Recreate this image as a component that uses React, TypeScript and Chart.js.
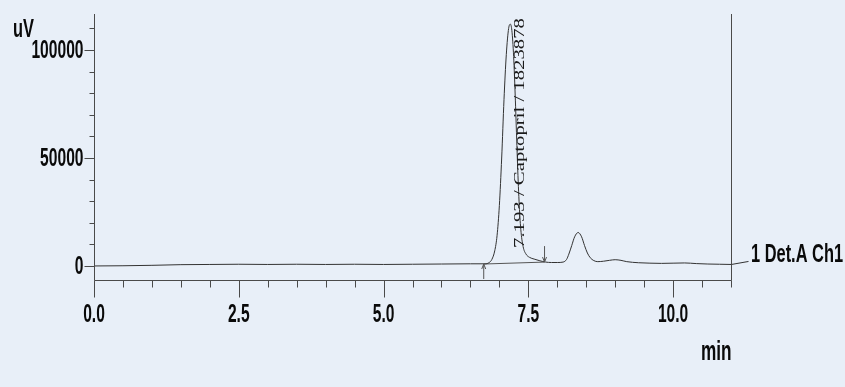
import React, { useEffect, useRef } from "react";
import { Chart, registerables } from "chart.js";

Chart.register(...registerables);

// ---- data ----
const traceTimes = [
  0.0, 0.5, 1.0, 1.5, 2.0, 2.5, 3.0, 3.5, 4.0, 4.5, 5.0, 5.5, 6.0, 6.5, 6.75,
  6.82, 6.87, 6.92, 6.96, 7.0, 7.04, 7.08, 7.12, 7.16, 7.19, 7.22, 7.25, 7.28,
  7.31, 7.34, 7.37, 7.41, 7.46, 7.52, 7.6, 7.7, 7.8, 7.9, 8.0, 8.1, 8.16, 8.2,
  8.25, 8.3, 8.36, 8.42, 8.47, 8.52, 8.57, 8.63, 8.7, 8.8, 8.9, 9.0, 9.1, 9.2,
  9.4, 9.6, 9.8, 10.0, 10.2, 10.4, 10.6, 10.8, 11.0,
];
const traceSignal = [
  0, 100, 300, 600, 700, 800, 700, 800, 700, 800, 700, 800, 900, 1000, 1000,
  1500, 3000, 7000, 14000, 28000, 50000, 77000, 98000, 110000, 112000, 108000,
  95000, 74000, 50000, 30000, 17000, 9000, 5500, 4000, 3200, 2400, 1800, 1600,
  1600, 1800, 3000, 5500, 9500, 13500, 15500, 13500, 9500, 6000, 3800, 2500,
  2000, 2200, 2600, 2900, 2600, 2000, 1500, 1300, 1200, 1300, 1400, 1100, 900,
  800, 700,
];
const integrationTimes = [6.73, 7.78];
const integrationSignal = [900, 1800];
const markerTimes = [6.73, 7.78];
const markerDirections = ["up", "down"];

const peakTime = 7.193;
const peakLabel = "7.193 / Captopril / 1823878";
const channelLabel = "1 Det.A Ch1";
const yUnit = "uV";
const xUnit = "min";

const xMajorTicks = [0, 2.5, 5.0, 7.5, 10.0];
const xTickLabels = ["0.0", "2.5", "5.0", "7.5", "10.0"];
const xMinorStep = 0.5;
const yMajorTicks = [0, 50000, 100000];
const yTickLabels = ["0", "50000", "100000"];
const yMinorStep = 10000;

const X_MIN = 0;
const X_MAX = 11;
const Y_MIN = -6500;
const Y_MAX = 116700;

const BG = "#e8eff8";
const INK = "#0a0a0a";
const AXIS = "#4a4a4a";
const TRACE = "#333333";
const SANS = '"Liberation Sans", Arial, sans-serif';
const SERIF = '"Liberation Serif", "DejaVu Serif", serif';

function drawText(
  ctx: CanvasRenderingContext2D,
  text: string,
  x: number,
  y: number,
  size: number,
  align: CanvasTextAlign,
  sx: number,
  sy: number,
  baseline: CanvasTextBaseline = "middle"
) {
  ctx.save();
  ctx.translate(x, y);
  ctx.scale(sx, sy);
  ctx.font = `bold ${size}px ${SANS}`;
  ctx.textAlign = align;
  ctx.textBaseline = baseline;
  ctx.fillText(text, 0, 0);
  ctx.restore();
}

const decorPlugin = {
  id: "chromDecor",
  beforeDraw(chart: any) {
    const ctx = chart.ctx;
    ctx.save();
    ctx.fillStyle = BG;
    ctx.fillRect(0, 0, chart.width, chart.height);
    ctx.restore();
  },
  afterDraw(chart: any) {
    const ctx = chart.ctx as CanvasRenderingContext2D;
    const { left, right, top, bottom } = chart.chartArea;
    const xs = chart.scales.x;
    const ys = chart.scales.y;
    ctx.save();
    ctx.strokeStyle = AXIS;
    ctx.lineWidth = 1;
    const line = (x1: number, y1: number, x2: number, y2: number) => {
      ctx.beginPath();
      ctx.moveTo(x1, y1);
      ctx.lineTo(x2, y2);
      ctx.stroke();
    };
    const L = Math.round(left) + 0.5;
    const R = Math.round(right) + 0.5;
    const B = Math.round(bottom) + 0.5;
    // axes
    line(L, top, L, B);
    line(L, B, R, B);
    line(R, top, R, B);
    // x ticks
    for (let v = X_MIN; v <= X_MAX + 1e-9; v += xMinorStep) {
      const px = Math.round(xs.getPixelForValue(v)) + 0.5;
      const major = xMajorTicks.some((m) => Math.abs(m - v) < 1e-6);
      line(px, B, px, B + (major ? 17 : 7));
    }
    // y ticks
    for (let v = 0; v <= Y_MAX; v += yMinorStep) {
      const py = Math.round(ys.getPixelForValue(v)) + 0.5;
      const major = yMajorTicks.some((m) => Math.abs(m - v) < 1e-6);
      line(L, py, L - (major ? 10 : 5), py);
    }
    // markers (integration arrows)
    ctx.strokeStyle = "#555";
    markerTimes.forEach((t, i) => {
      const px = xs.getPixelForValue(t);
      if (markerDirections[i] === "up") {
        const yTip = ys.getPixelForValue(integrationSignal[0]);
        line(px, yTip, px, yTip + 15);
        line(px - 2, yTip + 5, px, yTip);
        line(px + 2, yTip + 5, px, yTip);
      } else {
        const yTip = ys.getPixelForValue(integrationSignal[1]);
        line(px, yTip, px, yTip - 16);
        line(px - 2, yTip - 5, px, yTip);
        line(px + 2, yTip - 5, px, yTip);
      }
    });
    // connector to channel label
    ctx.strokeStyle = TRACE;
    const lastY = ys.getPixelForValue(traceSignal[traceSignal.length - 1]);
    line(R, lastY, R + 17, lastY - 3);

    ctx.fillStyle = INK;
    // y labels
    yMajorTicks.forEach((v, i) => {
      drawText(ctx, yTickLabels[i], L - 11, ys.getPixelForValue(v) + 1, 19.5, "right", 0.8, 1.3);
    });
    // x labels (tall, condensed)
    xMajorTicks.forEach((v, i) => {
      drawText(ctx, xTickLabels[i], xs.getPixelForValue(v), 315, 19.5, "center", 0.8, 1.35);
    });
    // units
    drawText(ctx, yUnit, 13, 30, 20, "left", 0.82, 1.3);
    drawText(ctx, xUnit, 701, 360, 21, "left", 0.82, 1.3, "alphabetic");
    // channel label
    drawText(ctx, channelLabel, 751, 255, 20.5, "left", 0.8, 1.3);
    // rotated peak label
    ctx.save();
    const cx = xs.getPixelForValue(peakTime) + 10;
    ctx.translate(cx, 248);
    ctx.rotate(-Math.PI / 2);
    ctx.font = `15px ${SERIF}`;
    const w = ctx.measureText(peakLabel).width;
    ctx.scale(230 / w, 1);
    ctx.textAlign = "left";
    ctx.textBaseline = "middle";
    ctx.fillStyle = "#1a1a1a";
    ctx.fillText(peakLabel, 0, 0);
    ctx.restore();

    ctx.restore();
  },
};

export default function App() {
  const ref = useRef<HTMLCanvasElement | null>(null);
  useEffect(() => {
    if (!ref.current) return;
    const chart = new Chart(ref.current, {
      type: "line",
      data: {
        datasets: [
          {
            label: channelLabel,
            data: traceTimes.map((t, i) => ({ x: t, y: traceSignal[i] })),
            borderColor: TRACE,
            borderWidth: 1,
            pointRadius: 0,
            fill: false,
            cubicInterpolationMode: "monotone",
          },
          {
            label: "integration baseline",
            data: integrationTimes.map((t, i) => ({ x: t, y: integrationSignal[i] })),
            borderColor: "#555",
            borderWidth: 1,
            pointRadius: 0,
            fill: false,
          },
        ],
      },
      options: {
        animation: false,
        responsive: false,
        maintainAspectRatio: false,
        layout: { padding: { left: 94, right: 114, top: 14, bottom: 107 } },
        plugins: { legend: { display: false }, tooltip: { enabled: false } },
        scales: {
          x: { type: "linear", min: X_MIN, max: X_MAX, display: false },
          y: { type: "linear", min: Y_MIN, max: Y_MAX, display: false },
        },
      },
      plugins: [decorPlugin],
    } as any);
    return () => chart.destroy();
  }, []);
  return (
    <div style={{ position: "fixed", left: 0, top: 0, width: 845, height: 387, background: BG }}>
      <canvas ref={ref} width={845} height={387} style={{ display: "block" }} />
    </div>
  );
}
